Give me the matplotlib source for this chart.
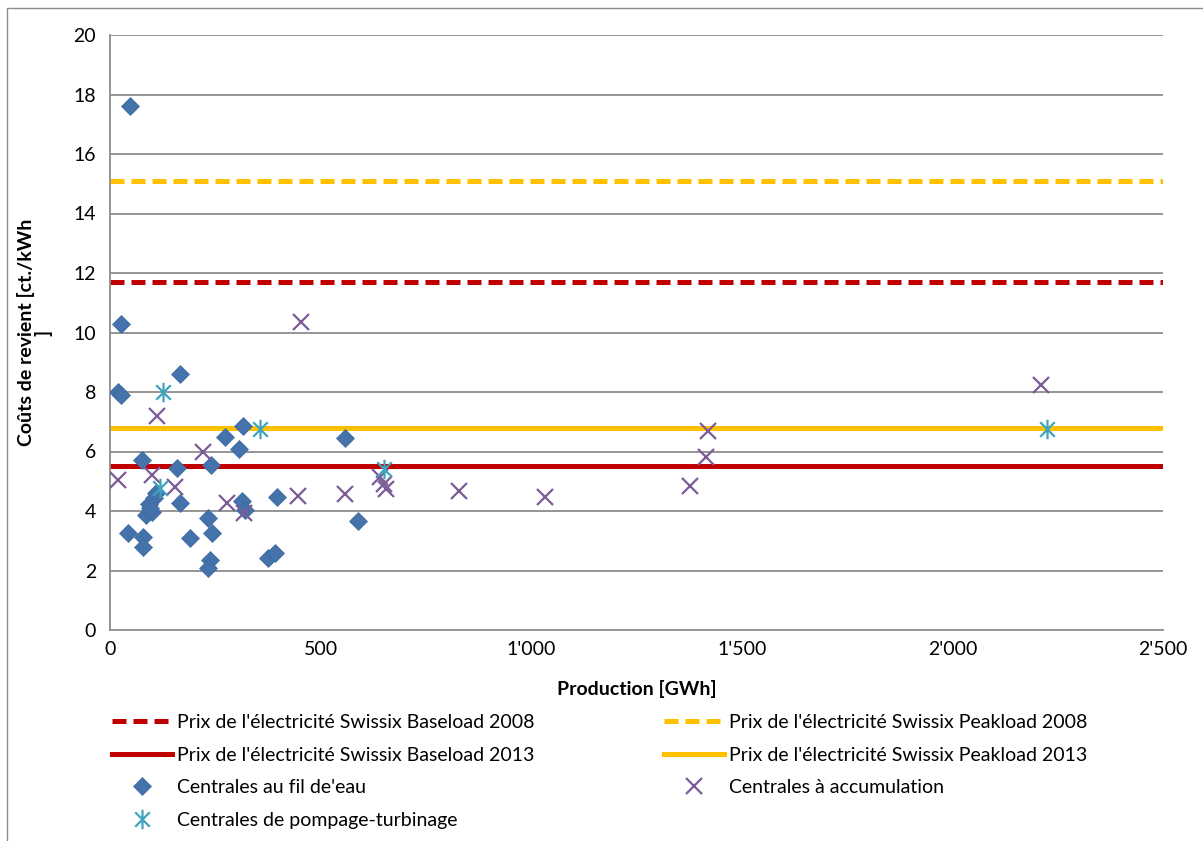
import numpy as np
import matplotlib
matplotlib.use("Agg")
import matplotlib.pyplot as plt
from matplotlib.path import Path
from matplotlib.patches import Rectangle

plt.rcParams['font.family'] = ['Lato', 'DejaVu Sans']

# reference prices (ct./kWh)
base_2008 = 11.7
peak_2008 = 15.1
base_2013 = 5.5
peak_2013 = 6.8

# run-of-river plants: production [GWh], cost [ct./kWh]
fil_x = [47, 26, 18, 25, 166, 316, 273, 306, 558, 76, 159, 240,
         166, 85, 92, 100, 104, 110, 96, 42, 78, 78, 190, 232,
         242, 237, 232, 313, 320, 396, 375, 392, 589]
fil_y = [17.6, 10.3, 8.0, 7.9, 8.6, 6.85, 6.5, 6.1, 6.45, 5.7, 5.45, 5.55,
         4.27, 3.85, 4.25, 3.95, 4.45, 4.6, 4.1, 3.25, 3.12, 2.8, 3.1, 3.77,
         3.25, 2.35, 2.08, 4.35, 4.05, 4.47, 2.42, 2.58, 3.66]

# storage plants
acc_x = [453, 2210, 1420, 1415, 1377, 1033, 829, 558, 446, 640, 650, 655,
         112, 221, 19, 100, 154, 278, 318]
acc_y = [10.35, 8.23, 6.7, 5.8, 4.85, 4.47, 4.67, 4.57, 4.5, 5.15, 4.9, 4.75,
         7.2, 6.0, 5.05, 5.2, 4.8, 4.27, 3.93]

# pumped-storage plants
pomp_x = [126, 356, 2225, 650, 119]
pomp_y = [8.0, 6.76, 6.76, 5.4, 4.77]

x_ticks = [0, 500, 1000, 1500, 2000, 2500]
x_ticklabels = ["0", "500", "1'000", "1'500", "2'000", "2'500"]
y_ticks = list(range(0, 21, 2))

red = '#C00000'
gold = '#FFC000'

# asterisk marker: vertical bar plus two diagonals
star = Path([(0, -1), (0, 1), (-0.75, -0.75), (0.75, 0.75), (-0.75, 0.75), (0.75, -0.75)],
            [Path.MOVETO, Path.LINETO, Path.MOVETO, Path.LINETO, Path.MOVETO, Path.LINETO])

fig = plt.figure(figsize=(12.03, 8.41), dpi=100)
ax = fig.add_axes([110 / 1203, 1 - 630 / 841, 1053 / 1203, 595 / 841])

for yv in y_ticks[1:]:
    ax.axhline(yv, color='#8c8c8c', lw=1.3, zorder=0)

h_b08, = ax.plot([0, 2500], [base_2008, base_2008], color=red, lw=3.6, dashes=(2.8, 1.4),
                 label="Prix de l'électricité Swissix Baseload 2008")
h_p08, = ax.plot([0, 2500], [peak_2008, peak_2008], color=gold, lw=3.6, dashes=(2.8, 1.4),
                 label="Prix de l'électricité Swissix Peakload 2008")
h_b13, = ax.plot([0, 2500], [base_2013, base_2013], color=red, lw=3.6,
                 label="Prix de l'électricité Swissix Baseload 2013")
h_p13, = ax.plot([0, 2500], [peak_2013, peak_2013], color=gold, lw=3.6,
                 label="Prix de l'électricité Swissix Peakload 2013")

h_fil, = ax.plot(fil_x, fil_y, linestyle='none', marker='D', ms=9.5, color='#4472AA',
                 mec='#3D6A9F', mew=0.5, label="Centrales au fil de'eau", zorder=3)
h_acc, = ax.plot(acc_x, acc_y, linestyle='none', marker='x', ms=12, color='#7B5C96',
                 mew=1.6, label="Centrales à accumulation", zorder=4)
h_pomp, = ax.plot(pomp_x, pomp_y, linestyle='none', marker=star, ms=14, color='#3FA4BE',
                  mfc='none', mew=1.6, label="Centrales de pompage-turbinage", zorder=5)

ax.set_xlim(0, 2500)
ax.set_ylim(0, 20)
ax.set_xticks(x_ticks)
ax.set_xticklabels(x_ticklabels)
ax.set_yticks(y_ticks)
ax.tick_params(length=0, labelsize=14, pad=8)
ax.tick_params(axis='y', pad=10)
for s in ['top', 'right']:
    ax.spines[s].set_visible(False)
for s in ['left', 'bottom']:
    ax.spines[s].set_color('#8c8c8c')
    ax.spines[s].set_linewidth(1.3)

ax.set_xlabel("Production [GWh]", fontsize=14, fontweight='bold', labelpad=16)
ax.set_ylabel("Coûts de revient [ct./kWh\n]", fontsize=14, fontweight='bold', labelpad=15,
              linespacing=0.95)

leg_kw = dict(frameon=False, fontsize=14, handlelength=3.1, handletextpad=0.25,
              labelspacing=0.8, borderaxespad=0, borderpad=0)
fig.legend(handles=[h_b08, h_b13, h_fil, h_pomp], loc='upper left',
           bbox_to_anchor=(112 / 1203, 1 - 714 / 841), **leg_kw)
fig.legend(handles=[h_p08, h_p13, h_acc], loc='upper left',
           bbox_to_anchor=(664 / 1203, 1 - 714 / 841), **leg_kw)

fig.patches.append(Rectangle((7 / 1203, -0.05), 1.1, 1.05 - 8 / 841, transform=fig.transFigure,
                             fill=False, edgecolor='#8c8c8c', lw=1))

fig.savefig('out.png', dpi=100)
